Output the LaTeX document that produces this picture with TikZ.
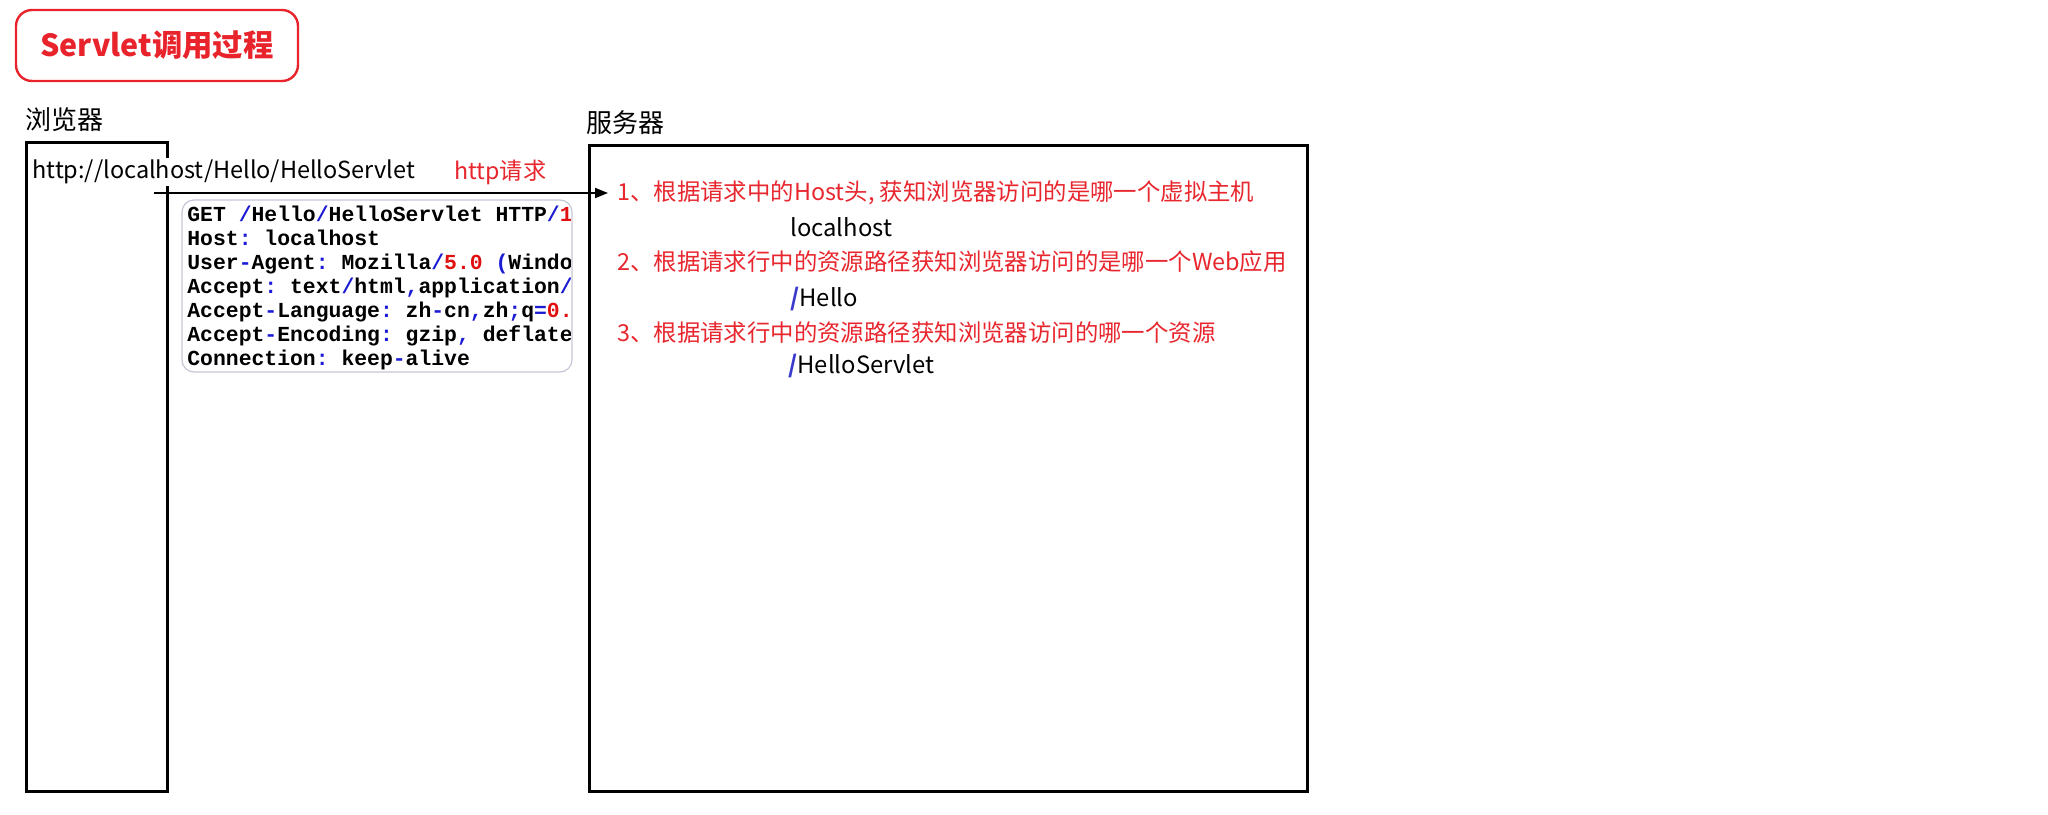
\documentclass[tikz,border=0pt]{standalone}
\usepackage{fontspec}
\usepackage{xcolor}
\setmainfont{Noto Sans CJK SC}
\setmonofont{Liberation Mono}
\usepackage{tikz}
\usetikzlibrary{positioning, arrows.meta}
\definecolor{titlered}{HTML}{E8232B}
\definecolor{itemred}{HTML}{E8262E}
\definecolor{opblue}{HTML}{1B1BD6}
\definecolor{numred}{HTML}{E01010}
\definecolor{slashblue}{HTML}{3A3ACC}
\definecolor{reqgray}{HTML}{C4C6D6}
\newcommand{\hsep}[1]{\textcolor{opblue}{#1}}
\newcommand{\hnum}[1]{\textcolor{numred}{#1}}
\newcommand{\pathslash}{{\bfseries\textcolor{slashblue}{/}}}
\tikzset{
  titlebox/.style={draw=titlered, line width=1.2pt, rounded corners=8pt, text=titlered, font=\bfseries\fontsize{15.2}{18}\selectfont},
  hostbox/.style={draw, line width=1.5pt},
  boxlabel/.style={anchor=west, inner sep=0pt, font=\fontsize{13}{15}\selectfont},
  reqbox/.style={draw=reqgray, line width=0.6pt, rounded corners=6pt},
  itemtext/.style={anchor=west, inner sep=4.5pt, text=itemred, font=\fontsize{11.7}{14}\selectfont},
  subtext/.style={anchor=west, inner sep=0pt, font=\fontsize{11.9}{14}\selectfont}
}

\begin{document}
\begin{tikzpicture}[x=0.5pt, y=-0.5pt]
\useasboundingbox (0,0) rectangle (2048,814);
\node[titlebox, minimum width=141pt, minimum height=35.5pt] (title) at (157,45.5) {Servlet调用过程};
\node[boxlabel] (browserlabel) at (25,120) {浏览器};
\node[boxlabel] (serverlabel) at (586,123) {服务器};
\node[hostbox, minimum width=70.5pt, minimum height=324.5pt] (browser) at (96.5,466.5) {};
\node[hostbox, minimum width=359pt, minimum height=323pt] (server) at (948,468) {};
\node[anchor=west, fill=white, inner sep=1pt, font=\fontsize{11.75}{14}\selectfont] (url) at (30,172) {http://localhost/Hello/HelloServlet};
\node[anchor=west, inner sep=0pt, text=itemred, font=\fontsize{11.6}{13}\selectfont] (httpreq) at (454,172) {http请求};
\node[reqbox, minimum width=195pt, minimum height=86pt] (request) at (377,286) {};
\begin{scope}
\clip (request.south west) rectangle ([xshift=-1pt]request.north east);
\node[anchor=north west, align=left, inner sep=0pt, font=\ttfamily\bfseries\fontsize{10.7}{12}\selectfont] (reqtext) at (187,206) {%
GET \hsep{/}Hello\hsep{/}HelloServlet HTTP\hsep{/}\hnum{1.1}\\
Host\hsep{:} localhost\\
User\hsep{-}Agent\hsep{:} Mozilla\hsep{/}\hnum{5.0} \hsep{(}Windows\\
Accept\hsep{:} text\hsep{/}html\hsep{,}application\hsep{/}xhtml\\
Accept\hsep{-}Language\hsep{:} zh\hsep{-}cn\hsep{,}zh\hsep{;}q\hsep{=}\hnum{0.5}\\
Accept\hsep{-}Encoding\hsep{:} gzip\hsep{,} deflate\\
Connection\hsep{:} keep\hsep{-}alive};
\end{scope}
\node[itemtext] (item1) at (608,193) {1、根据请求中的Host头, 获知浏览器访问的是哪一个虚拟主机};
\node[subtext] (vhost) at (790,227) {localhost};
\node[itemtext] (item2) at (608,262) {2、根据请求行中的资源路径获知浏览器访问的是哪一个Web应用};
\node[subtext] (webapp) at (790,299) {\pathslash Hello};
\node[itemtext] (item3) at (608,333) {3、根据请求行中的资源路径获知浏览器访问的哪一个资源};
\node[subtext] (resource) at (788,366) {\pathslash HelloServlet};
\coordinate (reqstart) at (154,193);
\draw[line width=1pt, -{Triangle[length=6.5pt, width=5pt]}] (reqstart) -- (item1.west);
\end{tikzpicture}
\end{document}
